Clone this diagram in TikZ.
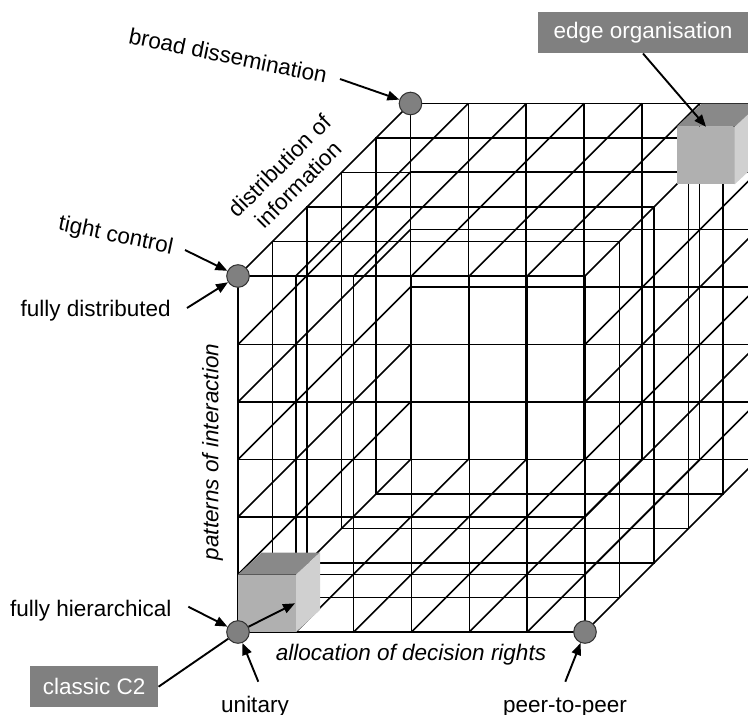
\documentclass[tikz,border=0pt]{standalone}
\usepackage{fontspec}
\setmainfont{Liberation Sans}
\usetikzlibrary{arrows.meta}
\definecolor{dotgray}{RGB}{128,128,128}
\definecolor{boxgray}{RGB}{128,128,128}
\definecolor{cubetop}{RGB}{137,137,137}
\definecolor{cubefront}{RGB}{176,176,176}
\definecolor{cubeside}{RGB}{208,208,208}
\begin{document}
\begin{tikzpicture}[x=1pt,y=-1pt,
  gridline/.style={line width=1.6pt,black},
  pointer/.style={line width=1.9pt,black,-{Triangle[length=12pt,width=9.5pt]}},
  plainlink/.style={line width=1.9pt,black},
  axislabel/.style={font=\fontsize{22.5}{27}\selectfont\itshape,inner sep=0pt},
  endlabel/.style={font=\fontsize{22.5}{27}\selectfont,inner sep=0pt},
  tagbox/.style={font=\fontsize{22.5}{27}\selectfont,text=white,fill=boxgray,inner sep=0pt},
  dot/.style={circle,fill=dotgray,draw=black!80,line width=1pt,minimum size=22.6pt,inner sep=0pt}
]
\useasboundingbox (0,0) rectangle (748,715);
\fill[white] (0,0) rectangle (748,715);

\begin{scope}
\clip (0,0) rectangle (748,715);
% depth slices of the cube (side-face grid lines)
\foreach \j in {0,...,5}
  \draw[gridline] ({238+34.5*\j},{276-34.5*\j}) rectangle ++(347,356);
% full grids on the front and the back face
\foreach \d in {0,172.5}{
  \foreach \a in {1,...,5}
    \draw[gridline] ({238+57.833*\a+\d},{276-\d}) -- ++(0,356);
  \foreach \r in {344.5,402,459.5,517,574.5}
    \draw[gridline] ({238+\d},{\r-\d}) -- ++(347,0);
}
% depth lines on the top and bottom faces
\foreach \a in {1,...,5}{
  \draw[gridline] ({238+57.833*\a},276) -- ++(172.5,-172.5);
  \draw[gridline] ({238+57.833*\a},632) -- ++(172.5,-172.5);
}
% depth lines on the left and right faces
\foreach \r in {276,344.5,402,459.5,517,574.5,632}{
  \draw[gridline] (238,\r) -- ++(172.5,-172.5);
  \draw[gridline] (585,\r) -- ++(172.5,-172.5);
}

% small cube at the classic C2 corner
\fill[cubefront] (238,574.5) rectangle (296,632);
\fill[cubetop] (238,574.5) -- (296,574.5) -- (320,552.5) -- (262,552.5) -- cycle;
\fill[cubeside] (296,574.5) -- (320,552.5) -- (320,610) -- (296,632) -- cycle;
% small cube at the edge corner
\fill[cubefront] (676.7,126.7) rectangle (734.7,184.3);
\fill[cubetop] (676.7,126.7) -- (734.7,126.7) -- (759.7,103.5) -- (701.7,103.5) -- cycle;
\fill[cubeside] (734.7,126.7) -- (759.7,103.5) -- (759.7,161) -- (734.7,184.3) -- cycle;
\end{scope}

% corner markers
\node[dot] (tc) at (238,276) {};
\node[dot] (bd) at (410.5,103.5) {};
\node[dot] (org) at (238,632) {};
\node[dot] (p2p) at (585,632) {};

% labels
\node[endlabel,rotate=-11.5,anchor=base] (lbd) at (226.5,63.3) {broad dissemination};
\node[endlabel,rotate=-12,anchor=base] (ltc) at (114.5,242) {tight control};
\node[endlabel,anchor=base] (lfd) at (95.7,316) {fully distributed};
\node[endlabel,anchor=base] (lfh) at (90.8,616.5) {fully hierarchical};
\node[endlabel,anchor=base] (lun) at (255,712) {unitary};
\node[endlabel,anchor=base] (lpp) at (565,712) {peer-to-peer};
\node[axislabel,anchor=base] (lalloc) at (411,660) {allocation of decision rights};
\node[axislabel,rotate=90,anchor=base] (lpat) at (218.3,452) {patterns of interaction};
\node[endlabel,rotate=45,align=center] (ldist) at (289,175) {distribution of\\information};

\node[tagbox,minimum width=210pt,minimum height=41.6pt] (edgebox) at (643,32.5) {edge organisation};
\node[tagbox,minimum width=128.3pt,minimum height=41.3pt] (c2box) at (94.2,686.7) {classic C2};

% arrow tails and tips
\coordinate (bdtail) at (340,79);
\coordinate (tctail) at (185,250);
\coordinate (fdtail) at (187,308);
\coordinate (fhtail) at (188.3,606.7);
\coordinate (untail) at (258.3,681.7);
\coordinate (pptail) at (565.3,681.7);
\coordinate (edgetip) at (706,126.7);
\coordinate (c2tip) at (295,603.3);

\draw[pointer] (bdtail) -- (bd);
\draw[pointer] (tctail) -- (tc);
\draw[pointer] (fdtail) -- (tc);
\draw[pointer] (fhtail) -- (org);
\draw[pointer] (untail) -- (org);
\draw[pointer] (pptail) -- (p2p);
\draw[pointer] (edgebox.south) -- (edgetip);
\draw[plainlink] (c2box.east) -- (org);
\draw[pointer] (org) -- (c2tip);
\end{tikzpicture}
\end{document}
